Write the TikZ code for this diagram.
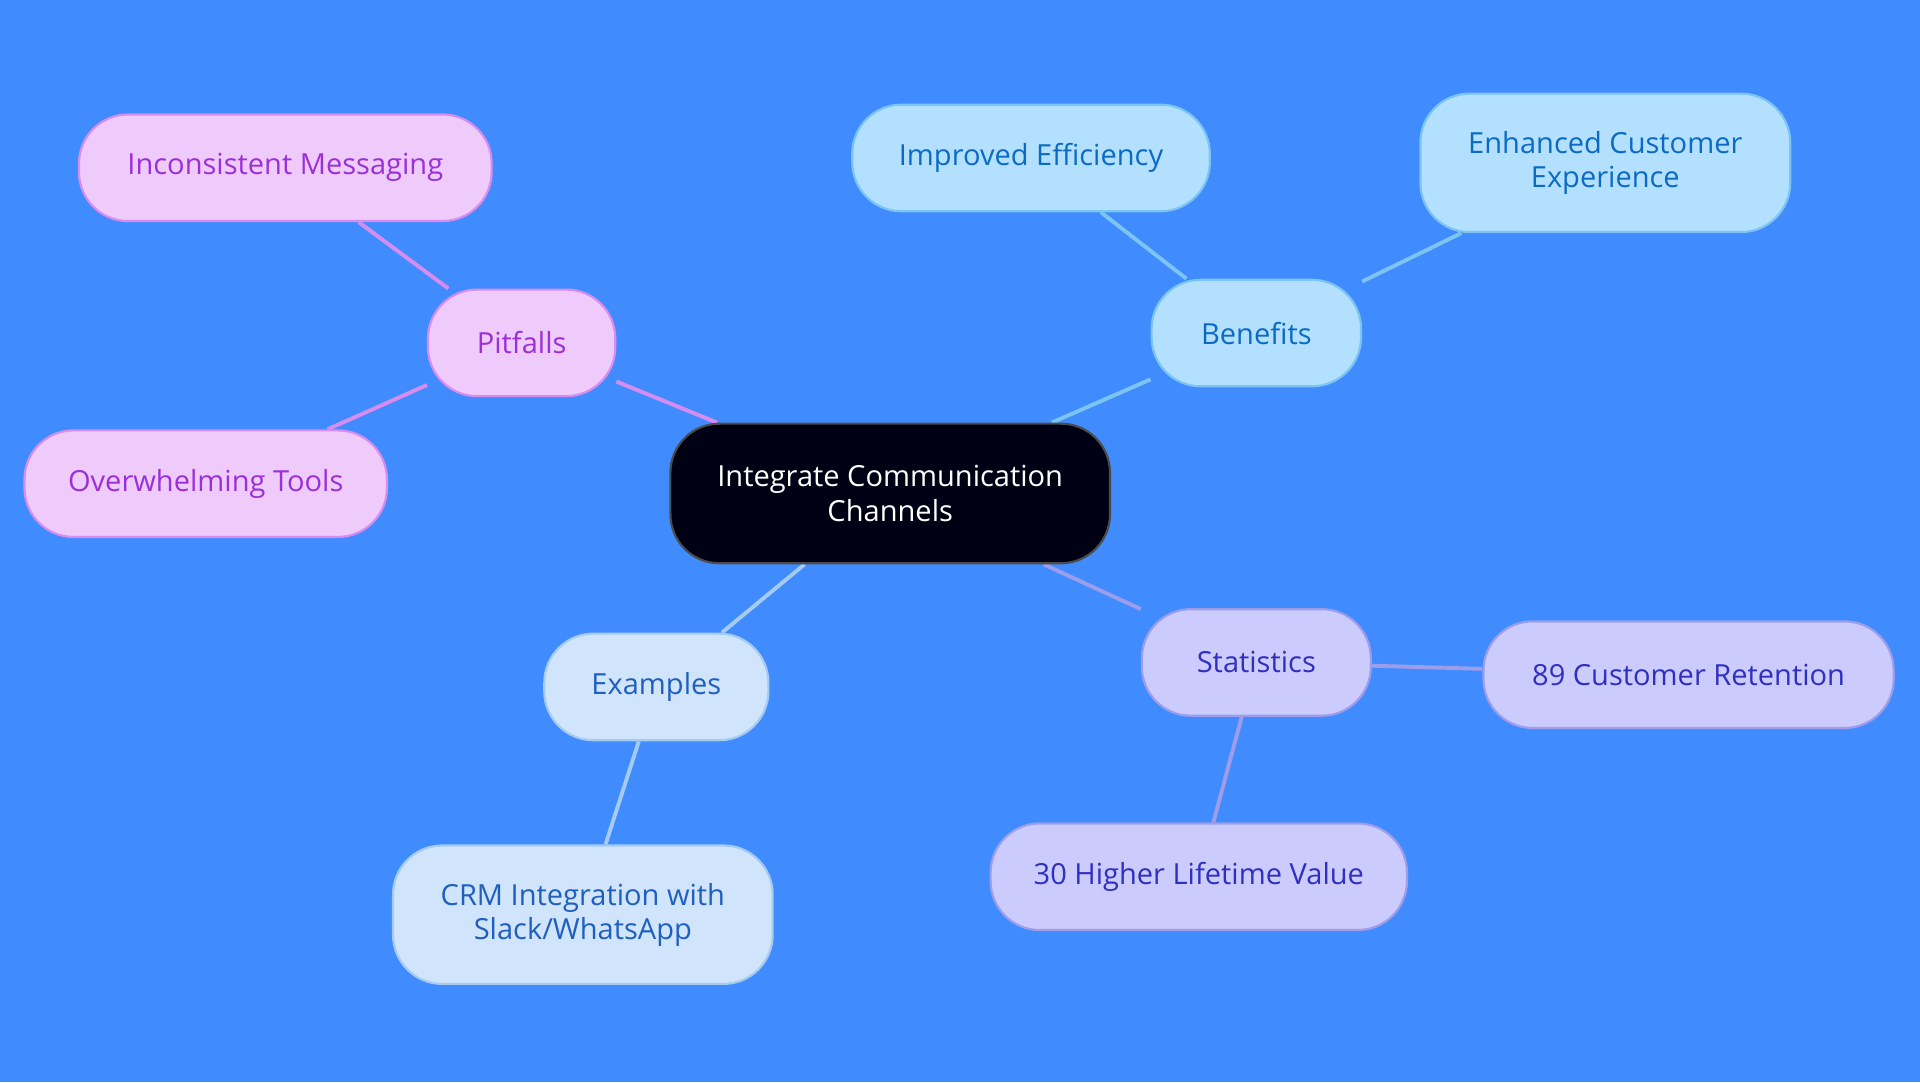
\documentclass[tikz,border=0pt]{standalone}
\usepackage{fontspec}
\setmainfont{Open Sans}
\pgfdeclarelayer{bgl}\pgfdeclarelayer{edges}\pgfsetlayers{bgl,edges,main}
\begin{document}
\begin{tikzpicture}[x=0.02cm,y=-0.02cm,
  box/.style={draw,line width=1pt,rounded corners=0.8cm,align=center,inner sep=0pt,font=\fontsize{13.5}{16}\selectfont},
  pit/.style={box,fill=pitF,draw=pitD,text=pitT},
  ben/.style={box,fill=benF,draw=benD,text=benT},
  sta/.style={box,fill=staF,draw=staD,text=staT},
  exa/.style={box,fill=exaF,draw=exaD,text=exaT},
  ed/.style={line width=1.8pt}]
\definecolor{bg}{HTML}{408CFF}
\definecolor{pitF}{HTML}{EECBFB}\definecolor{pitD}{HTML}{D98CF0}\definecolor{pitT}{HTML}{9B30D9}
\definecolor{benF}{HTML}{B3E0FF}\definecolor{benD}{HTML}{7CC4F2}\definecolor{benT}{HTML}{0B6BC4}
\definecolor{staF}{HTML}{CBCBFD}\definecolor{staD}{HTML}{9D9DEB}\definecolor{staT}{HTML}{2F2FC0}
\definecolor{exaF}{HTML}{D0E5FB}\definecolor{exaD}{HTML}{A6CBF2}\definecolor{exaT}{HTML}{1F5FC0}
\begin{pgfonlayer}{bgl}
\fill[bg] (0,0) rectangle (1568,884);
\end{pgfonlayer}
\useasboundingbox (0,0) rectangle (1568,884);
\node[box,fill=black!92!blue,draw=gray!60!black,text=white,minimum width=359*0.02cm,minimum height=114*0.02cm] (c) at (727,403) {Integrate Communication\\Channels};
\node[pit,minimum width=153*0.02cm,minimum height=87*0.02cm] (p) at (426,280) {Pitfalls};
\node[pit,minimum width=337*0.02cm,minimum height=87*0.02cm] (p1) at (233,137) {Inconsistent Messaging};
\node[pit,minimum width=296*0.02cm,minimum height=87*0.02cm] (p2) at (168,395) {Overwhelming Tools};
\node[ben,minimum width=171*0.02cm,minimum height=87*0.02cm] (b) at (1026,272) {Benefits};
\node[ben,minimum width=292*0.02cm,minimum height=87*0.02cm] (b1) at (842,129) {Improved Efficiency};
\node[ben,minimum width=302*0.02cm,minimum height=113*0.02cm] (b2) at (1311,133) {Enhanced Customer\\Experience};
\node[sta,minimum width=187*0.02cm,minimum height=87*0.02cm] (s) at (1026,541) {Statistics};
\node[sta,minimum width=335*0.02cm,minimum height=87*0.02cm] (s1) at (1379,551) {89 Customer Retention};
\node[sta,minimum width=340*0.02cm,minimum height=87*0.02cm] (s2) at (979,716) {30 Higher Lifetime Value};
\node[exa,minimum width=183*0.02cm,minimum height=87*0.02cm] (e) at (536,561) {Examples};
\node[exa,minimum width=310*0.02cm,minimum height=113*0.02cm] (e1) at (476,747) {CRM Integration with\\Slack/WhatsApp};
\begin{pgfonlayer}{edges}
\draw[ed,pitD] (c) -- (p); \draw[ed,pitD] (p) -- (p1); \draw[ed,pitD] (p) -- (p2);
\draw[ed,benD] (c) -- (b); \draw[ed,benD] (b) -- (b1); \draw[ed,benD] (b) -- (b2);
\draw[ed,staD] (c) -- (s); \draw[ed,staD] (s) -- (s1); \draw[ed,staD] (s) -- (s2);
\draw[ed,exaD] (c) -- (e); \draw[ed,exaD] (e) -- (e1);
\end{pgfonlayer}
\end{tikzpicture}
\end{document}
